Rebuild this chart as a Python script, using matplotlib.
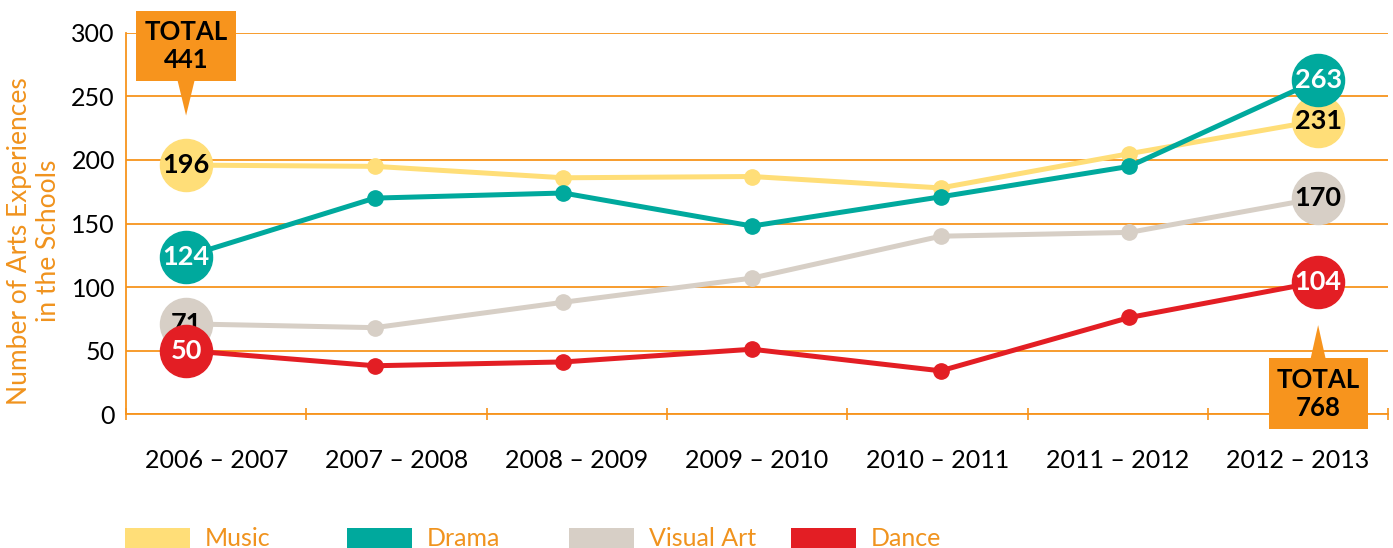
import numpy as np
import matplotlib.pyplot as plt
from matplotlib.patches import Rectangle, Polygon

plt.rcParams['font.family'] = ['Lato', 'DejaVu Sans']

# dati
years = ['2006 – 2007', '2007 – 2008', '2008 – 2009', '2009 – 2010',
         '2010 – 2011', '2011 – 2012', '2012 – 2013']
music = [196, 195, 186, 187, 178, 205, 231]
drama = [124, 170, 174, 148, 171, 195, 263]
visual_art = [71, 68, 88, 107, 140, 143, 170]
dance = [50, 38, 41, 51, 34, 76, 104]

names = ['Music', 'Drama', 'Visual Art', 'Dance']
series = [music, drama, visual_art, dance]
colors = ['#FFDE78', '#00A99D', '#D7CFC6', '#E31E24']
text_colors = ['black', 'white', 'black', 'white']
zorders = [3, 5, 4, 6]
orange = '#F7941D'

fig = plt.figure(figsize=(13.93, 5.48), dpi=100)
ax = fig.add_axes([0.0905, 0.2445, 0.906, 0.6953])
x = np.arange(len(years))
ax.set_xlim(-0.318, 6.371)
ax.set_ylim(0, 300)

ax.set_yticks(range(0, 301, 50))
ax.yaxis.grid(True, color=orange, lw=1.3)
ax.set_axisbelow(True)
ax.tick_params(axis='y', length=0, pad=8, labelsize=18)
ax.set_xticks([])
for s in ['top', 'right']:
    ax.spines[s].set_visible(False)
for s in ['left', 'bottom']:
    ax.spines[s].set_color(orange)
    ax.spines[s].set_linewidth(1.3)

for vals, c, tc, z in zip(series, colors, text_colors, zorders):
    ax.plot(x, vals, '-o', color=c, lw=3.6, ms=11, zorder=z, clip_on=False)
    for i in [0, len(vals) - 1]:
        ax.plot(x[i], vals[i], 'o', ms=37.5, color=c, zorder=z + 0.5, clip_on=False)
        ax.text(x[i], vals[i], str(vals[i]), ha='center', va='center', fontsize=19.5,
                fontweight='bold', color=tc, zorder=z + 0.6)

# etichette anni su un secondo asse
ax2 = ax.twiny()
ax2.set_xlim(-0.5, 6.5)
ax2.xaxis.tick_bottom()
ax2.set_xticks(x, years)
ax2.set_xticks(np.arange(-0.5, 7, 1), minor=True)
ax2.tick_params(which='major', length=0, pad=25, labelsize=18)
ax2.tick_params(which='minor', direction='inout', length=9, color=orange, width=1.2)
for s in ax2.spines.values():
    s.set_visible(False)

# box dei totali
tot_start = sum(v[0] for v in series)
tot_end = sum(v[-1] for v in series)

ax.add_patch(Rectangle((-0.265, 262), 0.53, 55, fc=orange, ec='none', clip_on=False, zorder=8))
ax.add_patch(Polygon([(-0.045, 262.5), (0.045, 262.5), (0, 235)], fc=orange, ec='none',
                     clip_on=False, zorder=8))
ax.text(0, 289.5, 'TOTAL\n' + str(tot_start), ha='center', va='center', fontsize=18.5,
        fontweight='bold', linespacing=1.2, zorder=9)

ax.add_patch(Rectangle((6 - 0.262, -12), 0.525, 56, fc=orange, ec='none', clip_on=False, zorder=8))
ax.add_patch(Polygon([(5.96, 43.5), (6.04, 43.5), (6, 70)], fc=orange, ec='none',
                     clip_on=False, zorder=8))
ax.text(6, 16, 'TOTAL\n' + str(tot_end), ha='center', va='center', fontsize=18.5,
        fontweight='bold', linespacing=1.2, zorder=9)

fig.text(34 / 1393, 1 - 241 / 548, 'Number of Arts Experiences\nin the Schools', rotation=90,
         ha='center', va='center', multialignment='center', fontsize=19, color='#F0931E',
         linespacing=1.15)

# legenda manuale
for i, (name, c) in enumerate(zip(names, colors)):
    xs = (125 + 222 * i) / 1393
    fig.patches.append(Rectangle((xs, 0), 65 / 1393, 20 / 548, transform=fig.transFigure,
                                 fc=c, ec='none', figure=fig))
    fig.text(xs + 80 / 1393, 2 / 548, name, ha='left', va='baseline', fontsize=18, color='#F0931E')

fig.savefig('out.png', dpi=100)
